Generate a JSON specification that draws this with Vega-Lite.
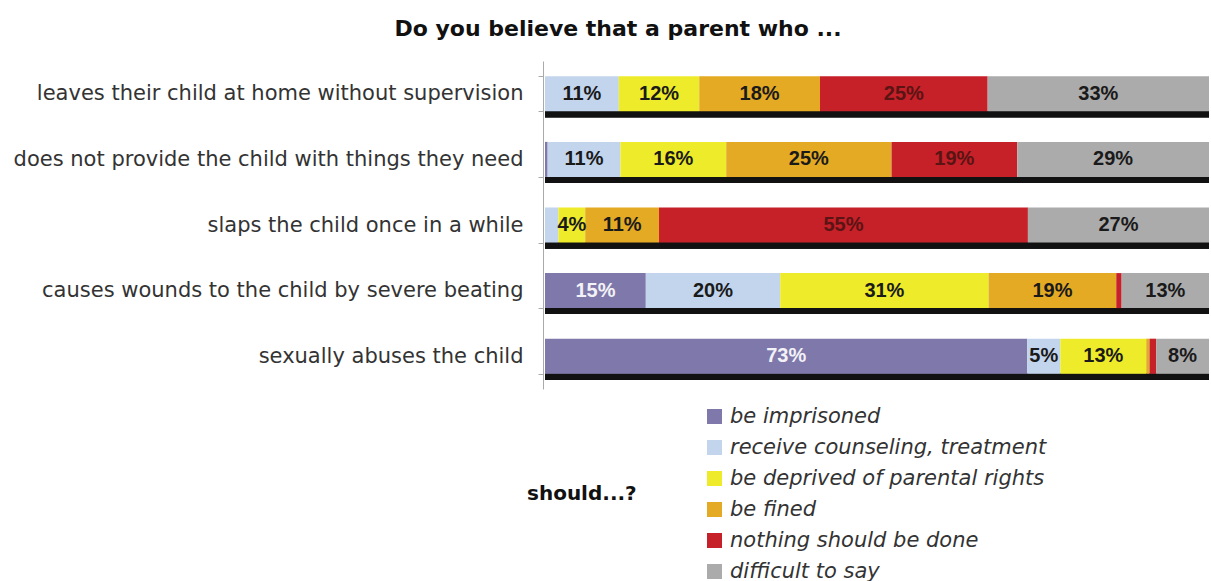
{
  "$schema": "https://vega.github.io/schema/vega-lite/v6.json",
  "width": 664,
  "height": 328,
  "autosize": {"type": "none"},
  "padding": {"left": 545, "top": 61, "right": 2, "bottom": 192},
  "background": "white",
  "config": {"font": "Liberation Sans", "view": {"stroke": null}},
  "title": {"text": "Do you believe that a parent who ...", "font": "DejaVu Sans", "fontSize": 22, "fontWeight": "bold", "anchor": "middle", "frame": "group", "dx": -259, "offset": 9, "color": "#111"},
  "data": {"values": [
    {"q": "leaves their child at home without supervision", "a": "receive counseling, treatment", "o": 2, "v": 0.11},
    {"q": "leaves their child at home without supervision", "a": "be deprived of parental rights", "o": 3, "v": 0.12},
    {"q": "leaves their child at home without supervision", "a": "be fined", "o": 4, "v": 0.18},
    {"q": "leaves their child at home without supervision", "a": "nothing should be done", "o": 5, "v": 0.25},
    {"q": "leaves their child at home without supervision", "a": "difficult to say", "o": 6, "v": 0.33},
    {"q": "does not provide the child with things they need", "a": "be imprisoned", "o": 1, "v": 0.004},
    {"q": "does not provide the child with things they need", "a": "receive counseling, treatment", "o": 2, "v": 0.11},
    {"q": "does not provide the child with things they need", "a": "be deprived of parental rights", "o": 3, "v": 0.16},
    {"q": "does not provide the child with things they need", "a": "be fined", "o": 4, "v": 0.25},
    {"q": "does not provide the child with things they need", "a": "nothing should be done", "o": 5, "v": 0.19},
    {"q": "does not provide the child with things they need", "a": "difficult to say", "o": 6, "v": 0.29},
    {"q": "slaps the child once in a while", "a": "receive counseling, treatment", "o": 2, "v": 0.02},
    {"q": "slaps the child once in a while", "a": "be deprived of parental rights", "o": 3, "v": 0.04},
    {"q": "slaps the child once in a while", "a": "be fined", "o": 4, "v": 0.11},
    {"q": "slaps the child once in a while", "a": "nothing should be done", "o": 5, "v": 0.55},
    {"q": "slaps the child once in a while", "a": "difficult to say", "o": 6, "v": 0.27},
    {"q": "causes wounds to the child by severe beating", "a": "be imprisoned", "o": 1, "v": 0.15},
    {"q": "causes wounds to the child by severe beating", "a": "receive counseling, treatment", "o": 2, "v": 0.20},
    {"q": "causes wounds to the child by severe beating", "a": "be deprived of parental rights", "o": 3, "v": 0.31},
    {"q": "causes wounds to the child by severe beating", "a": "be fined", "o": 4, "v": 0.19},
    {"q": "causes wounds to the child by severe beating", "a": "nothing should be done", "o": 5, "v": 0.008},
    {"q": "causes wounds to the child by severe beating", "a": "difficult to say", "o": 6, "v": 0.13},
    {"q": "sexually abuses the child", "a": "be imprisoned", "o": 1, "v": 0.73},
    {"q": "sexually abuses the child", "a": "receive counseling, treatment", "o": 2, "v": 0.05},
    {"q": "sexually abuses the child", "a": "be deprived of parental rights", "o": 3, "v": 0.13},
    {"q": "sexually abuses the child", "a": "be fined", "o": 4, "v": 0.005},
    {"q": "sexually abuses the child", "a": "nothing should be done", "o": 5, "v": 0.01},
    {"q": "sexually abuses the child", "a": "difficult to say", "o": 6, "v": 0.08}
  ]},
  "transform": [
    {"stack": "v", "groupby": ["q"], "sort": [{"field": "o", "order": "ascending"}], "as": ["x0", "x1"], "offset": "normalize"}
  ],
  "encoding": {
    "y": {
      "field": "q", "type": "nominal",
      "sort": ["leaves their child at home without supervision", "does not provide the child with things they need", "slaps the child once in a while", "causes wounds to the child by severe beating", "sexually abuses the child"],
      "scale": {"paddingInner": 0.466, "paddingOuter": 0.233},
      "axis": {"title": null, "labelFont": "DejaVu Sans", "labelFontSize": 21, "labelColor": "#333", "labelPadding": 15, "labelLimit": 0, "domainColor": "#aaa", "tickColor": "#aaa", "tickSize": 5, "tickBand": "extent", "tickExtra": true, "offset": 2}
    }
  },
  "layer": [
    {
      "mark": {"type": "bar", "color": "#111", "height": 6, "yOffset": 20.5},
      "encoding": {
        "x": {"datum": 0, "type": "quantitative", "scale": {"domain": [0, 1], "nice": false}, "axis": null},
        "x2": {"datum": 1}
      }
    },
    {
      "mark": {"type": "bar"},
      "encoding": {
        "x": {"field": "x0", "type": "quantitative", "scale": {"domain": [0, 1], "nice": false}, "axis": null},
        "x2": {"field": "x1"},
        "color": {
          "field": "a", "type": "nominal",
          "scale": {
            "domain": ["be imprisoned", "receive counseling, treatment", "be deprived of parental rights", "be fined", "nothing should be done", "difficult to say"],
            "range": ["#7f78aa", "#c2d5ed", "#eeec2a", "#e5aa24", "#c62028", "#ababab"]
          },
          "legend": {
            "orient": "none", "legendX": -18, "legendY": 345,
            "title": "should...?", "titleOrient": "left", "titleAngle": 0, "titleFont": "DejaVu Sans", "titleFontSize": 20, "titleFontWeight": "bold", "titleColor": "#111",
            "titlePadding": 67, "titleAnchor": "middle", "titleBaseline": "middle",
            "labelFont": "DejaVu Sans", "labelFontSize": 21, "labelFontStyle": "italic", "labelColor": "#333", "labelLimit": 0, "labelOffset": 5,
            "symbolType": "square", "symbolSize": 225, "symbolStrokeWidth": 0, "rowPadding": 9
          }
        }
      }
    },
    {
      "transform": [
        {"filter": "datum.v >= 0.04"},
        {"fold": ["x0", "x1"], "as": ["k", "xx"]},
        {"aggregate": [{"op": "mean", "field": "xx", "as": "xm"}], "groupby": ["q", "a", "v"]}
      ],
      "mark": {"type": "text", "fontSize": 20, "fontWeight": "bold"},
      "encoding": {
        "x": {"field": "xm", "type": "quantitative"},
        "text": {"field": "v", "type": "quantitative", "format": ".0%"},
        "color": {
          "condition": [
            {"test": "datum.a === 'be imprisoned'", "value": "#f2f2f7"},
            {"test": "datum.a === 'nothing should be done'", "value": "#5a1414"}
          ],
          "value": "#1a1a1a"
        }
      }
    }
  ]
}
